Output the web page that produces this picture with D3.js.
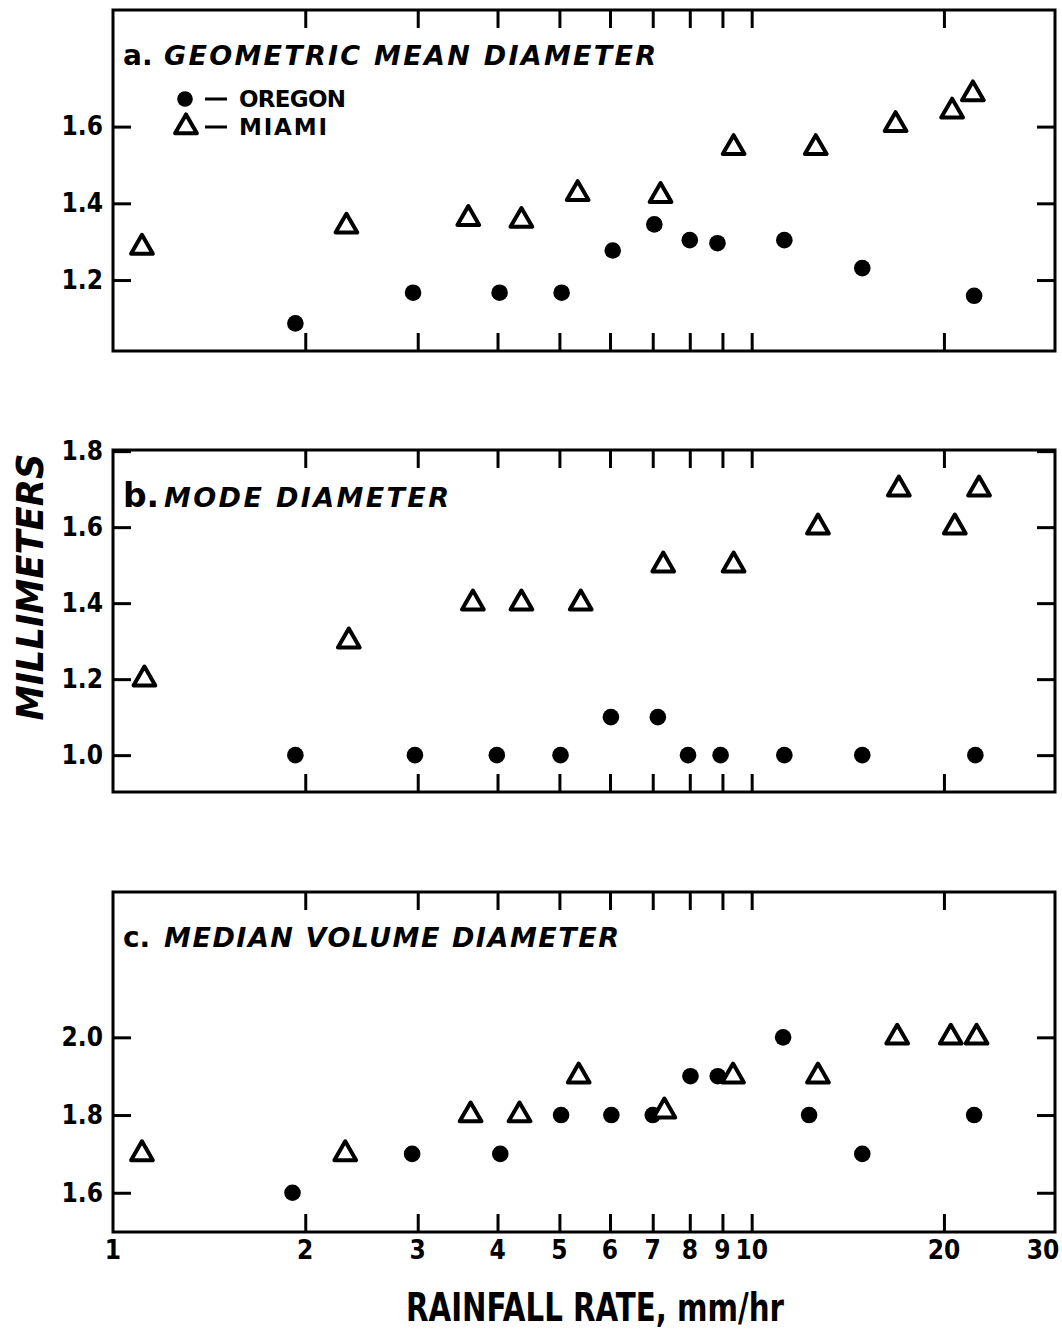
<!DOCTYPE html>
<html>
<head>
<meta charset="utf-8">
<script src="https://cdn.jsdelivr.net/npm/d3@7"></script>
<style>
  html, body { margin: 0; padding: 0; background: #fff; }
  svg { display: block; }
</style>
</head>
<body>
<svg id="chart" width="1062" height="1331"></svg>
<script>
// ---------------- DATA ----------------
const xTickValues = [2, 3, 4, 5, 6, 7, 8, 9, 10, 20];
const xTickLabels = [1, 2, 3, 4, 5, 6, 7, 8, 9, 10, 20, 30];

// a. Geometric mean diameter (mm)
const oregonA_x = [1.93, 2.95, 4.03, 5.04, 6.06, 7.04, 8.0, 8.84, 11.25, 14.9, 22.3];
const oregonA_y = [1.087, 1.167, 1.167, 1.167, 1.277, 1.345, 1.304, 1.296, 1.304, 1.231, 1.159];
const miamiA_x  = [1.11, 2.32, 3.6, 4.36, 5.34, 7.2, 9.37, 12.6, 16.8, 20.6, 22.2];
const miamiA_y  = [1.285, 1.34, 1.36, 1.355, 1.425, 1.42, 1.545, 1.545, 1.605, 1.64, 1.685];
const yTicksA   = [1.2, 1.4, 1.6];

// b. Mode diameter (mm)
const oregonB_x = [1.93, 2.97, 3.99, 5.02, 6.02, 7.13, 7.95, 8.94, 11.25, 14.9, 22.4];
const oregonB_y = [1.0, 1.0, 1.0, 1.0, 1.1, 1.1, 1.0, 1.0, 1.0, 1.0, 1.0];
const miamiB_x  = [1.12, 2.34, 3.66, 4.36, 5.4, 7.27, 9.37, 12.7, 17.0, 20.8, 22.7];
const miamiB_y  = [1.2, 1.3, 1.4, 1.4, 1.4, 1.5, 1.5, 1.6, 1.7, 1.6, 1.7];
const yTicksB   = [1.0, 1.2, 1.4, 1.6, 1.8];

// c. Median volume diameter (mm)
const oregonC_x = [1.91, 2.94, 4.04, 5.03, 6.03, 7.0, 8.02, 8.85, 11.2, 12.3, 14.9, 22.3];
const oregonC_y = [1.6, 1.7, 1.7, 1.8, 1.8, 1.8, 1.9, 1.9, 2.0, 1.8, 1.7, 1.8];
const miamiC_x  = [1.11, 2.31, 3.63, 4.33, 5.36, 7.3, 9.35, 12.7, 16.9, 20.5, 22.5];
const miamiC_y  = [1.7, 1.7, 1.8, 1.8, 1.9, 1.81, 1.9, 1.9, 2.0, 2.0, 2.0];
const yTicksC   = [1.6, 1.8, 2.0];

const panelLetters = ["a.", "b.", "c."];
const panelTitles  = ["GEOMETRIC MEAN DIAMETER", "MODE DIAMETER", "MEDIAN VOLUME DIAMETER"];
const legendLabels = ["OREGON", "MIAMI"];
const yAxisTitle = "MILLIMETERS";
const xAxisTitle = "RAINFALL RATE, mm/hr";

// ---------------- LAYOUT ----------------
const W = 1062, H = 1331;
const left = 113, right = 1055;
const layout = [
  { top: 10,  bottom: 351,  yDomain: [1.015, 1.904], titleY: 65,  titleLen: 492 },
  { top: 450, bottom: 792,  yDomain: [0.903, 1.803], titleY: 507, titleLen: 285 },
  { top: 892, bottom: 1232, yDomain: [1.499, 2.374], titleY: 947, titleLen: 455 }
];
const seriesData = [
  { ox: oregonA_x, oy: oregonA_y, mx: miamiA_x, my: miamiA_y, yt: yTicksA },
  { ox: oregonB_x, oy: oregonB_y, mx: miamiB_x, my: miamiB_y, yt: yTicksB },
  { ox: oregonC_x, oy: oregonC_y, mx: miamiC_x, my: miamiC_y, yt: yTicksC }
];

const svg = d3.select("#chart");
const x = d3.scaleLog().domain([1, 29.85]).range([left, right]);
const fmt = d3.format(".1f");
const tickFont = "'DejaVu Sans Condensed','DejaVu Sans',sans-serif";
const tri = d3.symbol().type(d3.symbolTriangle).size(205);

function styleAxis(g) {
  g.select(".domain").remove();
  g.selectAll(".tick line").attr("stroke", "#000").attr("stroke-width", 3);
  g.selectAll(".tick text")
    .attr("fill", "#000")
    .attr("font-family", tickFont)
    .attr("font-weight", "bold")
    .attr("font-size", 26);
}

layout.forEach((L, i) => {
  const S = seriesData[i];
  const y = d3.scaleLinear().domain(L.yDomain).range([L.bottom, L.top]);
  const g = svg.append("g");

  // inward ticks: top / bottom
  g.append("g").attr("transform", `translate(0,${L.top})`)
    .call(d3.axisTop(x).tickValues(xTickValues).tickSize(-18).tickFormat(""))
    .call(styleAxis);
  g.append("g").attr("transform", `translate(0,${L.bottom})`)
    .call(d3.axisBottom(x).tickValues(xTickValues).tickSize(-18).tickFormat(""))
    .call(styleAxis);
  // left (labels outside, ticks inward) and right
  g.append("g").attr("transform", `translate(${left},0)`)
    .call(d3.axisLeft(y).tickValues(S.yt).tickSize(-18).tickPadding(10).tickFormat(fmt))
    .call(styleAxis);
  g.append("g").attr("transform", `translate(${right},0)`)
    .call(d3.axisRight(y).tickValues(S.yt).tickSize(-18).tickFormat(""))
    .call(styleAxis);

  // frame
  g.append("rect")
    .attr("x", left).attr("y", L.top)
    .attr("width", right - left).attr("height", L.bottom - L.top)
    .attr("fill", "none").attr("stroke", "#000").attr("stroke-width", 3);

  // title
  g.append("text")
    .attr("x", 123).attr("y", L.titleY)
    .attr("font-family", "'DejaVu Sans',sans-serif")
    .attr("font-weight", "bold").attr("font-size", i === 1 ? 33 : 28)
    .text(panelLetters[i]);
  g.append("text")
    .attr("x", 164).attr("y", L.titleY)
    .attr("font-family", "'DejaVu Sans',sans-serif")
    .attr("font-style", "italic").attr("font-weight", "bold").attr("font-size", 27)
    .attr("textLength", L.titleLen).attr("lengthAdjust", "spacing")
    .text(panelTitles[i]);

  // Oregon: filled circles
  g.append("g").selectAll("circle")
    .data(S.ox.map((v, k) => [v, S.oy[k]]))
    .join("circle")
    .attr("cx", d => x(d[0])).attr("cy", d => y(d[1]))
    .attr("r", 8.3).attr("fill", "#000");

  // Miami: open triangles
  g.append("g").selectAll("path")
    .data(S.mx.map((v, k) => [v, S.my[k]]))
    .join("path")
    .attr("d", tri)
    .attr("transform", d => `translate(${x(d[0])},${y(d[1])})`)
    .attr("fill", "#fff").attr("stroke", "#000")
    .attr("stroke-width", 4).attr("stroke-linejoin", "round");

  // x tick labels on bottom panel
  if (i === layout.length - 1) {
    const lab = g.append("g").attr("transform", `translate(0,${L.bottom})`)
      .call(d3.axisBottom(x).tickValues(xTickLabels).tickSize(0).tickPadding(9).tickFormat(d3.format("d")))
      .call(styleAxis);
    lab.selectAll(".tick").attr("transform", d => `translate(${Math.min(x(d), W - 19)},0)`);
  }
});

// legend (panel a)
svg.append("circle").attr("cx", 185).attr("cy", 99).attr("r", 7.8).attr("fill", "#000");
svg.append("path").attr("d", tri).attr("transform", "translate(186,127)")
  .attr("fill", "#fff").attr("stroke", "#000").attr("stroke-width", 4).attr("stroke-linejoin", "round");
[99, 127].forEach((yy, k) => {
  svg.append("line").attr("x1", 205).attr("x2", 227).attr("y1", yy).attr("y2", yy)
    .attr("stroke", "#000").attr("stroke-width", 3);
  svg.append("text").attr("x", 239).attr("y", yy + 8)
    .attr("font-family", "'DejaVu Sans',sans-serif").attr("font-weight", "bold")
    .attr("font-size", 23)
    .attr("textLength", k === 0 ? 107 : 88).attr("lengthAdjust", "spacing")
    .text(legendLabels[k]);
});

// axis titles
svg.append("text")
  .attr("transform", "translate(43,587) rotate(-90)")
  .attr("text-anchor", "middle")
  .attr("font-family", "'DejaVu Sans',sans-serif")
  .attr("font-style", "italic").attr("font-weight", "bold").attr("font-size", 37)
  .attr("textLength", 267).attr("lengthAdjust", "spacingAndGlyphs")
  .text(yAxisTitle);

svg.append("text")
  .attr("x", 595).attr("y", 1321)
  .attr("text-anchor", "middle")
  .attr("font-family", "'DejaVu Sans Condensed','DejaVu Sans',sans-serif")
  .attr("font-weight", "bold").attr("font-size", 39)
  .attr("textLength", 378).attr("lengthAdjust", "spacingAndGlyphs")
  .text(xAxisTitle);
</script>
</body>
</html>
